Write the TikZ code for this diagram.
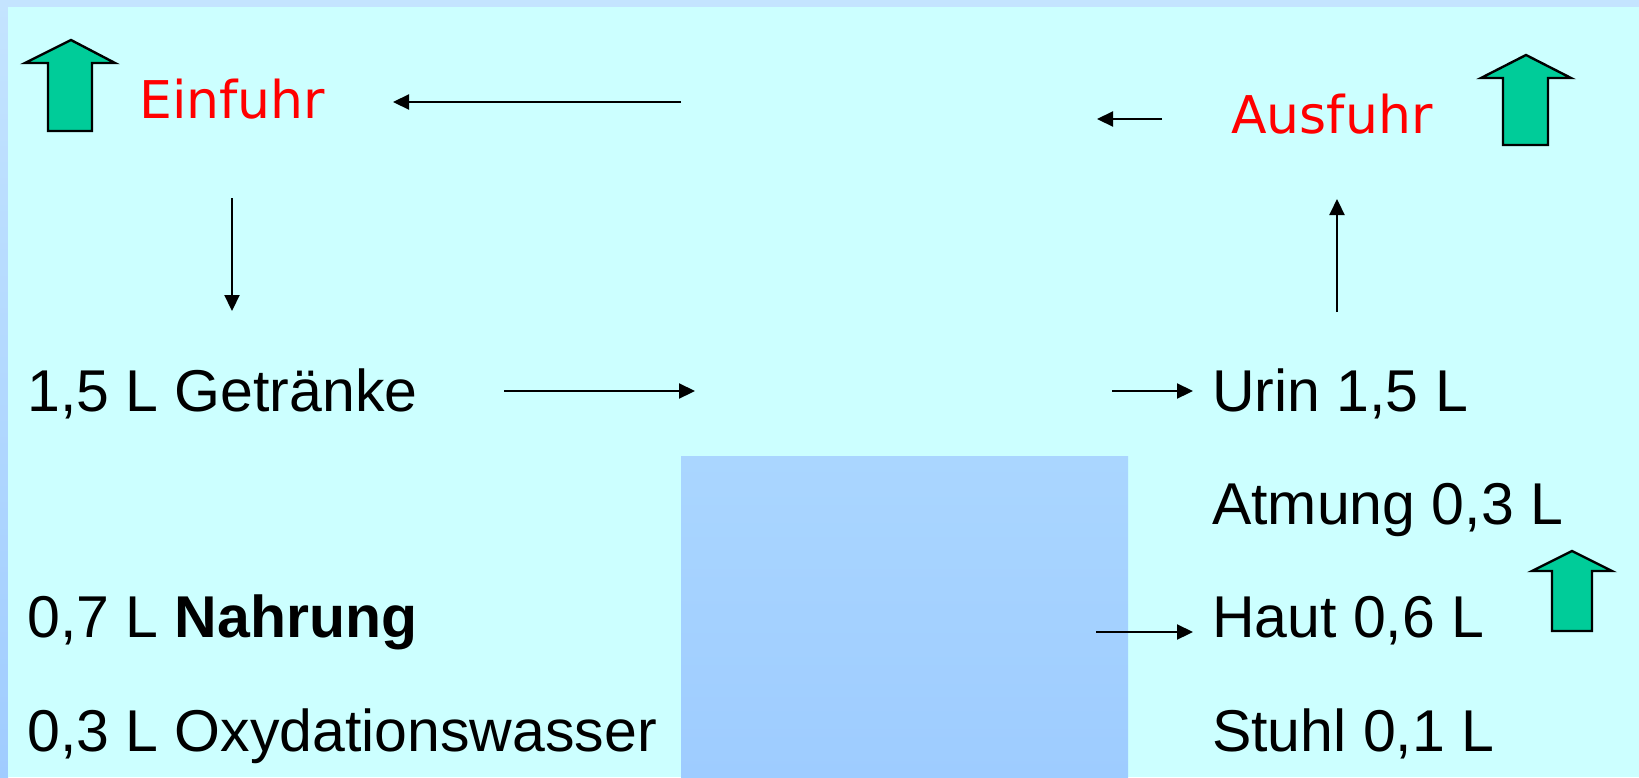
\documentclass[tikz,border=0pt]{standalone}
\usepackage{fontspec}
\setmainfont{Liberation Sans}
\newfontfamily\headfont{DejaVu Sans}
\usetikzlibrary{arrows.meta}
\definecolor{bgcyan}{HTML}{CCFFFF}
\definecolor{edgetop}{HTML}{C4E4FF}
\definecolor{edgebot}{HTML}{A0CCFF}
\definecolor{panetop}{HTML}{AAD6FF}
\definecolor{panebot}{HTML}{9ECCFF}
\definecolor{arrowgreen}{HTML}{00CC99}
\begin{document}
\begin{tikzpicture}[x=1pt,y=-1pt,
  lbl/.style={anchor=base west, inner sep=0pt, font=\fontsize{59}{70}\selectfont},
  headlbl/.style={anchor=base west, inner sep=0pt, text=red, font=\headfont\fontsize{52}{62}\selectfont},
  conn/.style={line width=2.2pt, -{Triangle[length=16pt,width=15pt]}},
  blockarrow/.style={fill=arrowgreen, draw=black, line width=2.4pt, line join=miter}]
\useasboundingbox (0,0) rectangle (1639,777);
% background and frame
\fill[edgetop] (0,0) rectangle (1639,777);
\shade[top color=edgetop, bottom color=edgebot] (0,0) rectangle (8,777);
\fill[bgcyan] (8,7) rectangle (1639,777);
% central pane
\shade[top color=panetop, bottom color=panebot] (681,456) rectangle (1128,777);
% block arrows
\draw[blockarrow] (71,40) -- (115,63) -- (92,63) -- (92,131) -- (48,131) -- (48,63) -- (25,63) -- cycle;
\draw[blockarrow] (1526,55) -- (1571,78) -- (1548,78) -- (1548,145) -- (1503,145) -- (1503,78) -- (1481,78) -- cycle;
\draw[blockarrow] (1572,551) -- (1612,571) -- (1592,571) -- (1592,631) -- (1552,631) -- (1552,571) -- (1532,571) -- cycle;
% texts
\node[headlbl] (einfuhr) at (139,118) {Einfuhr};
\node[headlbl] (ausfuhr) at (1231,133) {Ausfuhr};
\node[lbl] (getraenke) at (27,411) {1,5 L Getränke};
\node[lbl] (nahrung) at (27,637) {0,7 L \textbf{Nahrung}};
\node[lbl] (oxy) at (27,751) {0,3 L Oxydationswasser};
\node[lbl] (urin) at (1212,411) {Urin 1,5 L};
\node[lbl] (atmung) at (1212,524) {Atmung 0,3 L};
\node[lbl] (haut) at (1212,637) {Haut 0,6 L};
\node[lbl] (stuhl) at (1212,751) {Stuhl 0,1 L};
% connector end points
\coordinate (eA) at (681,102);  \coordinate (eB) at (393,102);
\coordinate (dA) at (232,198);  \coordinate (dB) at (232,311);
\coordinate (gA) at (504,391);  \coordinate (gB) at (695,391);
\coordinate (uA) at (1112,391); \coordinate (uB) at (1193,391);
\coordinate (vA) at (1337,312); \coordinate (vB) at (1337,199);
\coordinate (aA) at (1162,119); \coordinate (aB) at (1097,119);
\coordinate (hA) at (1096,632); \coordinate (hB) at (1193,632);
% connectors
\draw[conn] (eA) -- (eB);
\draw[conn] (dA) -- (dB);
\draw[conn] (gA) -- (gB);
\draw[conn] (uA) -- (uB);
\draw[conn] (vA) -- (vB);
\draw[conn] (aA) -- (aB);
\draw[conn] (hA) -- (hB);
\end{tikzpicture}
\end{document}
